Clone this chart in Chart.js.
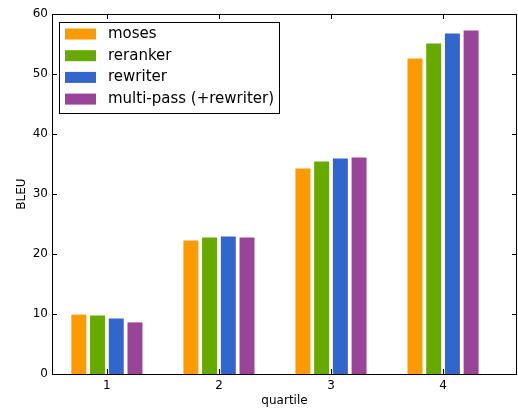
<!DOCTYPE html>
<html>
<head>
<meta charset="utf-8">
<script src="https://cdn.jsdelivr.net/npm/chart.js@4/dist/chart.umd.min.js"></script>
<style>
  html, body { margin: 0; padding: 0; background: #fff; }
  #wrap { width: 518px; height: 412px; }
</style>
</head>
<body>
<div id="wrap"><canvas id="bleu-chart" width="518" height="412"></canvas></div>
<script>
// quartile buckets on the x axis
const quartiles = [1, 2, 3, 4];
const yTicks = [0, 10, 20, 30, 40, 50, 60];

// BLEU per quartile
const moses = [9.9, 22.25, 34.25, 52.6];
const reranker = [9.75, 22.75, 35.4, 55.1];
const rewriter = [9.25, 22.9, 35.9, 56.75];
const multiPass = [8.6, 22.75, 36.1, 57.25];

const seriesNames = ["moses", "reranker", "rewriter", "multi-pass (+rewriter)"];
const seriesColors = ["#ff9900", "#66aa00", "#3366cc", "#994499"];
const seriesValues = [moses, reranker, rewriter, multiPass];

const FONT = "'DejaVu Sans', sans-serif";

// matplotlib-ish frame, inward ticks and boxed legend
const framePlugin = {
    id: "frame",
    afterDraw(chart) {
        const ctx = chart.ctx;
        const area = chart.chartArea;
        const xs = chart.scales.x;
        const ys = chart.scales.y;
        ctx.save();
        ctx.strokeStyle = "#000";
        ctx.lineWidth = 1;
        ctx.beginPath();
        quartiles.forEach(q => {
            const px = Math.round(xs.getPixelForValue(q)) + 0.5;
            ctx.moveTo(px, area.bottom); ctx.lineTo(px, area.bottom - 5);
            ctx.moveTo(px, area.top); ctx.lineTo(px, area.top + 5);
        });
        yTicks.forEach(v => {
            const py = Math.round(ys.getPixelForValue(v)) + 0.5;
            ctx.moveTo(area.left, py); ctx.lineTo(area.left + 5, py);
            ctx.moveTo(area.right, py); ctx.lineTo(area.right - 5, py);
        });
        ctx.stroke();
        ctx.strokeRect(Math.round(area.left) + 0.5, Math.round(area.top) + 0.5,
            Math.round(area.right - area.left) - 1, Math.round(area.bottom - area.top));

        // legend box
        const lx = 59.5, ly = 22.5, lw = 220, lh = 91;
        ctx.fillStyle = "#fff";
        ctx.fillRect(lx, ly, lw, lh);
        ctx.strokeRect(lx, ly, lw, lh);
        ctx.font = "15px " + FONT;
        ctx.textBaseline = "middle";
        chart.data.datasets.forEach((ds, i) => {
            const cy = 34 + i * 21.7;
            ctx.fillStyle = ds.backgroundColor;
            ctx.fillRect(65, cy - 5.5, 31, 11);
            ctx.fillStyle = "#000";
            ctx.fillText(ds.label, 108, cy);
        });
        ctx.restore();
    }
};

new Chart(
    document.getElementById("bleu-chart"),
    {
        type: "bar",
        data: {
            datasets: seriesNames.map((name, i) => ({
                label: name,
                data: quartiles.map((q, j) => ({x: q, y: seriesValues[i][j]})),
                backgroundColor: seriesColors[i],
                borderWidth: 0,
                barPercentage: 0.8,
                categoryPercentage: 0.668
            }))
        },
        options: {
            responsive: false,
            animation: false,
            devicePixelRatio: 1,
            layout: {padding: {left: 0, right: 1, top: 14, bottom: 0}},
            plugins: {legend: {display: false}, tooltip: {enabled: false}},
            scales: {
                x: {
                    type: "linear",
                    offset: false,
                    min: 0.51,
                    max: 4.66,
                    afterBuildTicks: s => { s.ticks = quartiles.map(v => ({value: v})); },
                    afterFit: s => { s.height = 38; },
                    grid: {display: false, drawTicks: false, offset: false},
                    border: {display: false},
                    ticks: {color: "#000", padding: 5, font: {family: FONT, size: 12}, maxRotation: 0},
                    title: {display: true, text: "quartile", color: "#000", padding: {top: 1, bottom: 4}, font: {family: FONT, size: 12}}
                },
                y: {
                    min: 0,
                    max: 60,
                    afterBuildTicks: s => { s.ticks = yTicks.map(v => ({value: v})); },
                    afterFit: s => { s.width = 52; },
                    grid: {display: false, drawTicks: false},
                    border: {display: false},
                    ticks: {color: "#000", padding: 4, font: {family: FONT, size: 12}},
                    title: {display: true, text: "BLEU", color: "#000", padding: {top: 15, bottom: 2}, font: {family: FONT, size: 12}}
                }
            }
        },
        plugins: [framePlugin]
    }
);
</script>
</body>
</html>
